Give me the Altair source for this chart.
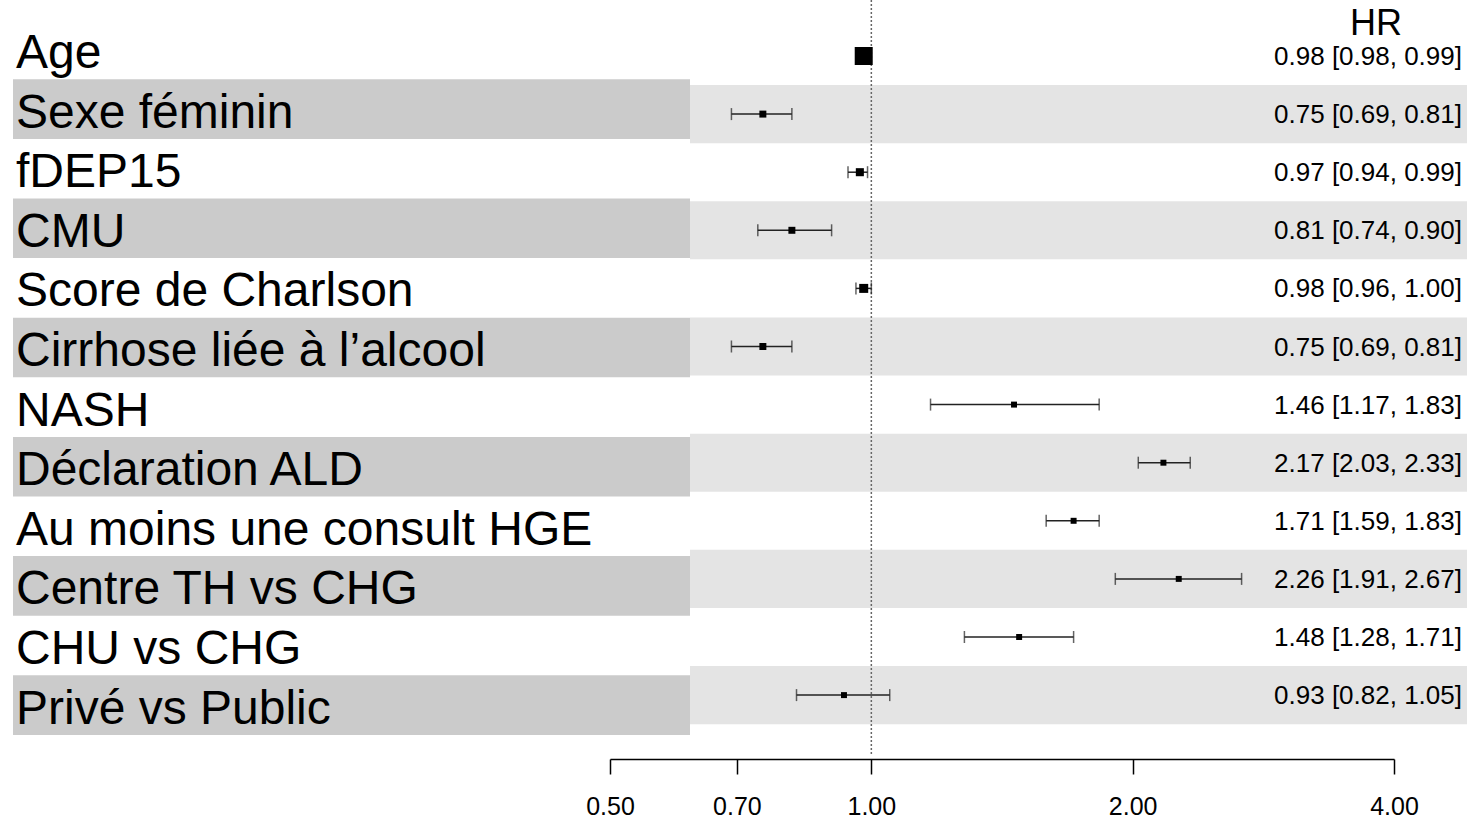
import altair as alt
import pandas as pd

labels = ["Age", "Sexe féminin", "fDEP15", "CMU", "Score de Charlson",
          "Cirrhose liée à l’alcool", "NASH", "Déclaration ALD",
          "Au moins une consult HGE", "Centre TH vs CHG", "CHU vs CHG",
          "Privé vs Public"]
hr = [0.98, 0.75, 0.97, 0.81, 0.98, 0.75, 1.46, 2.17, 1.71, 2.26, 1.48, 0.93]
lo = [0.98, 0.69, 0.94, 0.74, 0.96, 0.69, 1.17, 2.03, 1.59, 1.91, 1.28, 0.82]
hi = [0.99, 0.81, 0.99, 0.90, 1.00, 0.81, 1.83, 2.33, 1.83, 2.67, 1.71, 1.05]
weight = [1.0, 0.15, 0.2, 0.15, 0.25, 0.15, 0.11, 0.11, 0.11, 0.11, 0.11, 0.11]
tick_values = [0.5, 0.7, 1.0, 2.0, 4.0]
header = "HR"

df = pd.DataFrame({
    "row": list(range(len(labels))),
    "label": labels,
    "hr": hr,
    "lo": lo,
    "hi": hi,
    "weight": weight,
})
df["txt"] = [f"{h:.2f} [{l:.2f}, {u:.2f}]" for h, l, u in zip(hr, lo, hi)]
df["shade"] = df["row"] % 2 == 1
shaded = df[df["shade"]]

FONT = "Liberation Sans"

xs = alt.Scale(type="log", domain=[0.5, 4], range=[610, 1394])
yf = alt.Scale(domain=[-0.5, 11.5], range=[26.95, 724.15])   # forest rows
yl = alt.Scale(domain=[-0.5, 11.5], range=[19.7, 734.9])     # label rows

base = alt.Chart(df)
bshade = alt.Chart(shaded)

light = bshade.mark_rect(color="#e4e4e4").transform_calculate(
    y0="datum.row - 0.5", y1="datum.row + 0.5"
).encode(
    x=alt.value(690), x2=alt.value(1467),
    y=alt.Y("y0:Q", scale=yf, axis=None), y2="y1:Q",
)

dark = bshade.mark_rect(color="#cbcbcb").transform_calculate(
    y0="datum.row - 0.5", y1="datum.row + 0.5"
).encode(
    x=alt.value(13), x2=alt.value(690),
    y=alt.Y("y0:Q", scale=yl, axis=None), y2="y1:Q",
)

names = base.mark_text(align="left", baseline="alphabetic", dy=18.5,
                       font=FONT, fontSize=48, color="black").encode(
    x=alt.value(16),
    y=alt.Y("row:Q", scale=yl, axis=None),
    text="label:N",
)

ref = alt.Chart(pd.DataFrame({"v": [1.0]})).mark_rule(
    color="#666666", strokeDash=[2, 2], strokeWidth=1.5
).encode(
    x=alt.X("v:Q", scale=xs,
            axis=alt.Axis(values=tick_values, format=".2f", title=None, grid=False,
                          labelFont=FONT, labelFontSize=25, labelColor="black",
                          tickSize=15, tickWidth=1.5, tickColor="black",
                          domainColor="black", domainWidth=1.5, labelPadding=20,
                          labelFlush=False)),
    y=alt.value(0), y2=alt.value(756),
)

ci = base.mark_rule(color="#222222", strokeWidth=1.5).encode(
    x=alt.X("lo:Q", scale=xs), x2="hi:Q",
    y=alt.Y("row:Q", scale=yf, axis=None),
)

caps = base.transform_fold(["lo", "hi"], as_=["end", "val"]).mark_tick(
    orient="vertical", size=12, thickness=1.5, color="#222222"
).encode(
    x=alt.X("val:Q", scale=xs),
    y=alt.Y("row:Q", scale=yf, axis=None),
)

pts = base.mark_square(filled=True, color="black", opacity=1).encode(
    x=alt.X("hr:Q", scale=xs),
    y=alt.Y("row:Q", scale=yf, axis=None),
    size=alt.Size("weight:Q", scale=alt.Scale(domain=[0, 1], range=[0, 324]), legend=None),
)

vals = base.mark_text(align="right", baseline="alphabetic", dy=9,
                      font=FONT, fontSize=26, color="black").encode(
    x=alt.value(1462),
    y=alt.Y("row:Q", scale=yf, axis=None),
    text="txt:N",
)

head = alt.Chart(pd.DataFrame({"t": [header]})).mark_text(
    align="center", baseline="alphabetic", font=FONT, fontSize=36, color="black"
).encode(x=alt.value(1376), y=alt.value(35), text="t:N")

chart = alt.layer(light, dark, names, ref, ci, caps, pts, vals, head).resolve_scale(
    y="independent"
).properties(
    width=1467, height=759,
    background="white",
    autosize=alt.AutoSizeParams(type="none"),
    padding={"left": 0, "top": 0, "right": 0, "bottom": 61},
).configure_view(strokeWidth=0, stroke="transparent")

chart.save("out.html", embed_options={"renderer": "svg", "actions": False})
